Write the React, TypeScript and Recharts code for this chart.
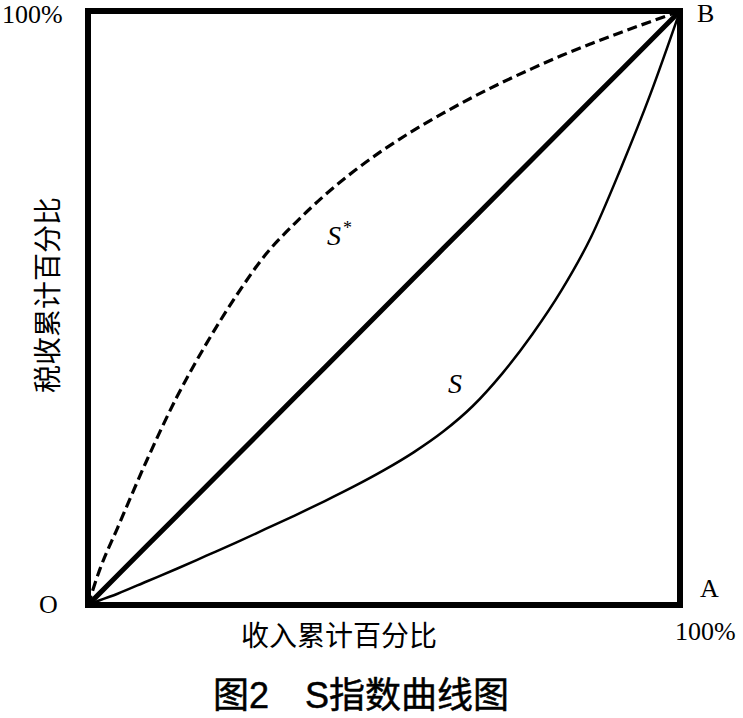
import { Line, LineChart, ReferenceArea, ReferenceDot, XAxis, YAxis } from "recharts";

// 收入累计百分比 (x) and the matching values of each curve
const incomeShare = [0, 0.02, 0.05, 0.1, 0.15, 0.2, 0.25, 0.3, 0.35, 0.4, 0.45, 0.5, 0.55, 0.6, 0.65, 0.7, 0.75, 0.8, 0.85, 0.9, 0.95, 1];
const sStar = [0, 0.06, 0.13, 0.245, 0.35, 0.44, 0.52, 0.59, 0.643, 0.69, 0.731, 0.767, 0.799, 0.828, 0.855, 0.88, 0.903, 0.925, 0.945, 0.964, 0.982, 1];
const sCurve = [0, 0.008, 0.019, 0.04, 0.061, 0.083, 0.105, 0.128, 0.151, 0.175, 0.2, 0.227, 0.257, 0.292, 0.335, 0.39, 0.455, 0.53, 0.62, 0.735, 0.86, 1];
const diagonal = incomeShare;

const data = incomeShare.map((x, i) => ({
  x,
  sStar: sStar[i],
  s: sCurve[i],
  diag: diagonal[i],
}));

const W = 743;
const H = 718;
const serif = "'Liberation Serif', 'DejaVu Serif', serif";
const cjk = "'Noto Sans CJK SC', 'Noto Sans', sans-serif";
const caption = "'Liberation Sans', 'Noto Sans CJK SC', sans-serif";

const curveLabel = (text: string, star: boolean) => (props: any) => {
  const { viewBox } = props;
  const cx = viewBox?.x ?? 0;
  const cy = viewBox?.y ?? 0;
  return (
    <text x={cx} y={cy} fontFamily={serif} fontStyle="italic" fontSize={28} fill="#000" textAnchor="middle">
      {text}
      {star && (
        <tspan fontSize={18} dy={-11} dx={2} fontStyle="normal">
          *
        </tspan>
      )}
    </text>
  );
};

export default function App() {
  return (
    <div style={{ position: "relative", width: W, height: H, background: "#fff" }}>
      <style>{`body{margin:0}`}</style>
      <LineChart width={W} height={H} data={data} margin={{ top: 11, right: 63, bottom: 113, left: 88 }}>
        <XAxis dataKey="x" type="number" domain={[0, 1]} hide />
        <YAxis type="number" domain={[0, 1]} hide />
        <Line dataKey="diag" type="linear" stroke="#000" strokeWidth={5} dot={false} isAnimationActive={false} />
        <Line
          dataKey="sStar"
          type="monotone"
          stroke="#000"
          strokeWidth={3.2}
          strokeDasharray="10 5"
          dot={false}
          isAnimationActive={false}
        />
        <Line dataKey="s" type="monotone" stroke="#000" strokeWidth={2.5} dot={false} isAnimationActive={false} />
        <ReferenceArea x1={0} x2={1} y1={0} y2={1} fill="none" stroke="#000" strokeWidth={6} ifOverflow="visible" />
        <ReferenceDot x={0.425} y={0.606} r={0} fill="none" stroke="none" label={curveLabel("S", true)} />
        <ReferenceDot x={0.62} y={0.357} r={0} fill="none" stroke="none" label={curveLabel("S", false)} />
      </LineChart>
      <svg width={W} height={H} style={{ position: "absolute", left: 0, top: 0, pointerEvents: "none" }}>
        <g fontFamily={serif} fontSize={26} fill="#000">
          <text x={2} y={23}>100%</text>
          <text x={697} y={22}>B</text>
          <text x={39} y={613}>O</text>
          <text x={700} y={597}>A</text>
          <text x={675} y={640}>100%</text>
        </g>
        <g fontFamily={cjk} fontSize={28} fill="#000">
          <text x={339} y={646} textAnchor="middle">收入累计百分比</text>
          <text x={58} y={295} textAnchor="middle" transform="rotate(-90, 58, 295)">税收累计百分比</text>
        </g>
        <text x={361} y={708} textAnchor="middle" fontFamily={caption} fontSize={36} fill="#000" stroke="#000" strokeWidth={0.5}>
          图2　S指数曲线图
        </text>
      </svg>
    </div>
  );
}
